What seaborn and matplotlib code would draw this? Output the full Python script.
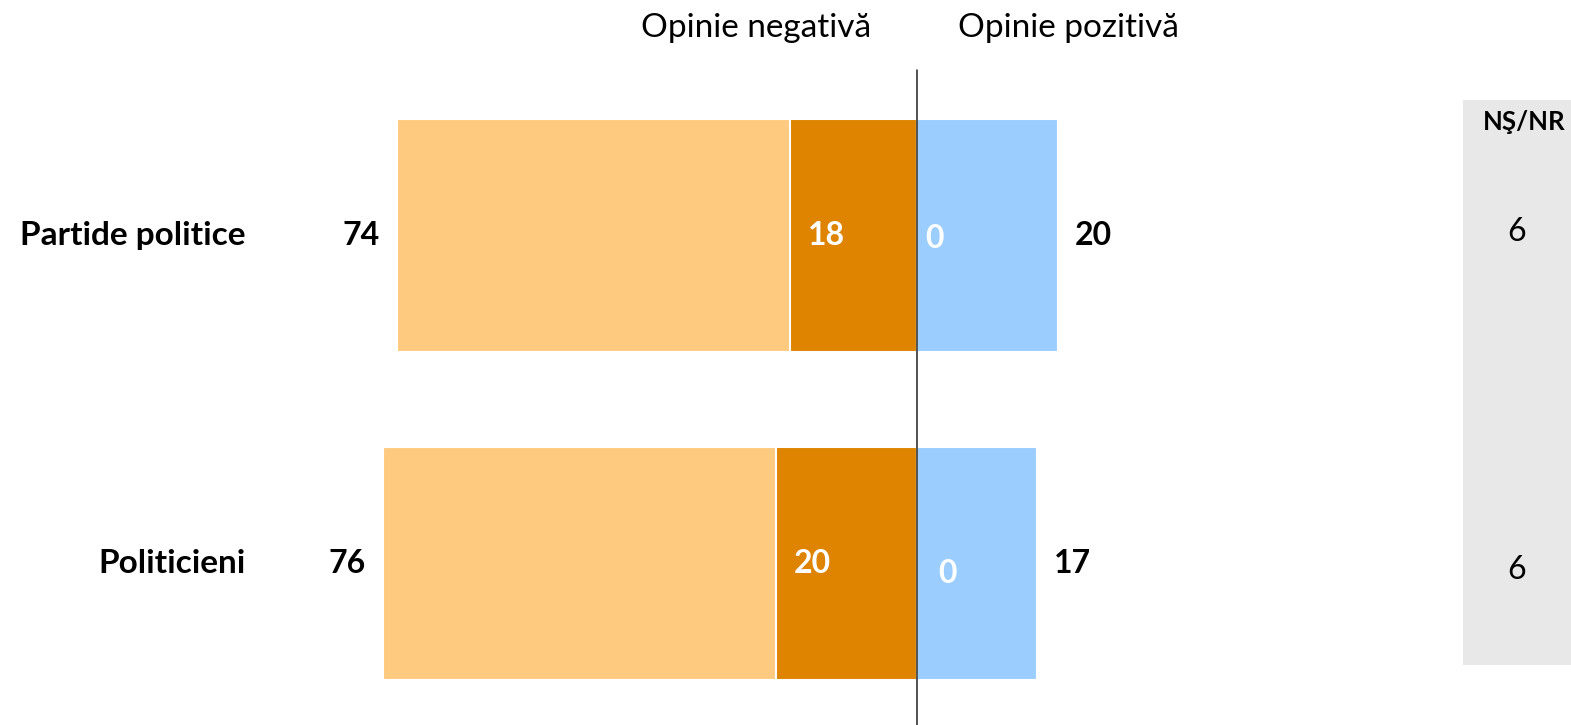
import numpy as np
import pandas as pd
import matplotlib.pyplot as plt
import seaborn as sns
from matplotlib.patches import Rectangle

# data
categories = ['Partide politice', 'Politicieni']
neg_total = [74, 76]          # foarte + destul de negativa
neg_strong = [18, 20]         # foarte negativa (dark)
pos_total = [20, 17]          # pozitiva
pos_strong = [0, 0]           # foarte pozitiva
ns_nr = [6, 6]

df = pd.DataFrame({'cat': categories, 'neg_total': [-v for v in neg_total],
                   'neg_strong': [-v for v in neg_strong], 'pos_total': pos_total})

sns.set_theme(style='white')
plt.rcParams['font.family'] = ['Lato', 'DejaVu Sans']

fig = plt.figure(figsize=(15.71, 7.25), dpi=100)

# NS/NR panel (behind the axes)
fig.patches.append(Rectangle((1463 / 1571, 1 - 665 / 725), (1571 - 1463) / 1571,
                             (665 - 100) / 725, transform=fig.transFigure,
                             facecolor='#E8E8E8', edgecolor='none', zorder=0))

ax = fig.add_axes([0, 0, 1, 1])
ax.set_zorder(2)
ax.patch.set_visible(False)

light_orange = '#FDCA80'
dark_orange = '#DE8400'
light_blue = '#9BCEFF'

sns.barplot(data=df, x='neg_total', y='cat', color=light_orange, width=0.71,
            edgecolor='white', linewidth=1.5, saturation=1, ax=ax, orient='h')
sns.barplot(data=df, x='neg_strong', y='cat', color=dark_orange, width=0.71,
            edgecolor='white', linewidth=1.5, saturation=1, ax=ax, orient='h')
sns.barplot(data=df, x='pos_total', y='cat', color=light_blue, width=0.71,
            edgecolor='white', linewidth=1.5, saturation=1, ax=ax, orient='h')

ax.set_xlim(-130.4, 93.0)
ax.set_ylim(1.492, -0.718)
ax.axis('off')

# center line
ax.plot([0, 0], [-0.505, 1.492], color='#222222', lw=1.1, zorder=5)

px = 223.4 / 1571  # data units per pixel
off = 17 * px
fs = 23
for i, cat in enumerate(categories):
    ax.text(-130.4 + 246 * px, i, cat, ha='right', va='center', fontsize=24,
            fontweight='bold', color='black')
    ax.text(-neg_total[i] - off, i, str(neg_total[i]), ha='right', va='center',
            fontsize=fs, fontweight='bold', color='black')
    ax.text(-neg_strong[i] + off, i, str(neg_strong[i]), ha='left', va='center',
            fontsize=fs, fontweight='bold', color='white')
    ax.text(pos_total[i] + off, i, str(pos_total[i]), ha='left', va='center',
            fontsize=fs, fontweight='bold', color='black')
ax.text(1.2, 0.01, str(pos_strong[0]), ha='left', va='center', fontsize=fs,
        fontweight='bold', color='white')
ax.text(3.0, 1.03, str(pos_strong[1]), ha='left', va='center', fontsize=fs,
        fontweight='bold', color='white')

# headers
fig.text(756 / 1571, 1 - 28 / 725, 'Opinie negativă', ha='center', va='center',
         fontsize=24, color='black')
fig.text(1068 / 1571, 1 - 28 / 725, 'Opinie pozitivă', ha='center', va='center',
         fontsize=24, color='black')

fig.text(1524 / 1571, 1 - 122 / 725, 'NŞ/NR', ha='center', va='center',
         fontsize=18.5, fontweight='bold', color='black')
for i, v in enumerate(ns_nr):
    ax.text(-130.4 + 1517 * px, i - 0.01 + 0.03 * i, str(v), ha='center', va='center',
            fontsize=fs, color='black')

fig.savefig('out.png', dpi=100)
